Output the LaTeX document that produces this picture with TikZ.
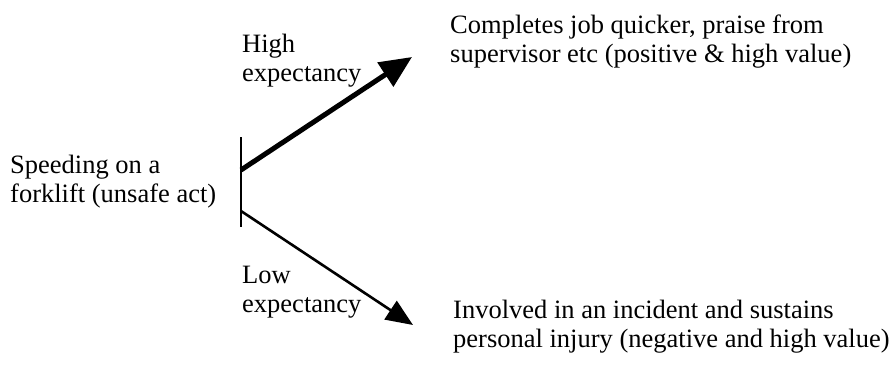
\documentclass[tikz,border=0pt]{standalone}
\usepackage{fontspec}
\setmainfont{Liberation Serif}
\usetikzlibrary{arrows.meta}
\begin{document}
\begin{tikzpicture}[x=1pt,y=-1pt,
  lbl/.style={anchor=base west,inner sep=0pt,align=left,font=\fontsize{26.5}{29}\selectfont},
  bigarrow/.style={line width=5pt,-{Triangle[length=32pt,width=28pt]}},
  smallarrow/.style={line width=2.6pt,-{Triangle[length=27pt,width=22pt]}}]
\useasboundingbox (0,0) rectangle (893,376);
\node[lbl] (act) at (10,202) {Speeding on a\\forklift (unsafe act)};
\node[lbl] (high) at (242,81) {High\\expectancy};
\node[lbl] (low) at (242,312) {Low\\expectancy};
\node[lbl] (pos) at (450,62) {Completes job quicker, praise from\\supervisor etc (positive \& high value)};
\node[lbl] (neg) at (453,347) {Involved in an incident and sustains\\personal injury (negative and high value)};
\coordinate (bartop) at (241,137);
\coordinate (barbot) at (241,227);
\coordinate (s1) at (241,170);
\coordinate (s2) at (241,211);
\coordinate (t1) at (412,57);
\coordinate (t2) at (413,325);
\draw[line width=2pt] (bartop) -- (barbot);
\draw[bigarrow] (s1) -- (t1);
\draw[smallarrow] (s2) -- (t2);
\end{tikzpicture}
\end{document}
